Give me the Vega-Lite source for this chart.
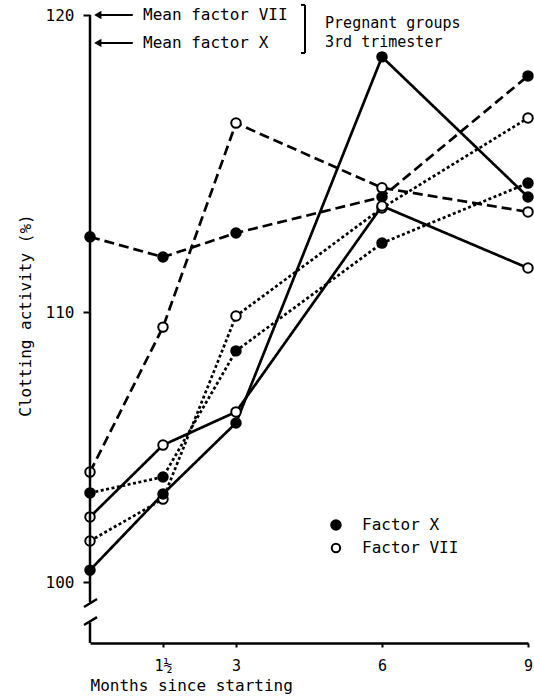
{
  "$schema": "https://vega.github.io/schema/vega-lite/v6.json",
  "width": 438,
  "height": 628,
  "autosize": {"type": "none"},
  "padding": {"left": 90, "top": 15, "right": 6, "bottom": 54},
  "background": "white",
  "config": {
    "view": {"stroke": null},
    "font": "DejaVu Sans Mono",
    "axis": {"labelColor": "black", "titleColor": "black", "tickColor": "black", "domainColor": "black", "grid": false, "titleFontWeight": "normal"}
  },
  "datasets": {
    "one": [{}],
    "series": [
      {"month": 0, "value": 104.07, "factor": "Factor VII", "group": "A"},
      {"month": 1.5, "value": 109.44, "factor": "Factor VII", "group": "A"},
      {"month": 3, "value": 116.36, "factor": "Factor VII", "group": "A"},
      {"month": 6, "value": 114.18, "factor": "Factor VII", "group": "A"},
      {"month": 9, "value": 113.37, "factor": "Factor VII", "group": "A"},
      {"month": 0, "value": 112.53, "factor": "Factor X", "group": "A"},
      {"month": 1.5, "value": 111.85, "factor": "Factor X", "group": "A"},
      {"month": 3, "value": 112.66, "factor": "Factor X", "group": "A"},
      {"month": 6, "value": 113.87, "factor": "Factor X", "group": "A"},
      {"month": 9, "value": 117.95, "factor": "Factor X", "group": "A"},
      {"month": 0, "value": 103.30, "factor": "Factor X", "group": "B"},
      {"month": 1.5, "value": 103.89, "factor": "Factor X", "group": "B"},
      {"month": 3, "value": 108.56, "factor": "Factor X", "group": "B"},
      {"month": 6, "value": 112.32, "factor": "Factor X", "group": "B"},
      {"month": 9, "value": 114.34, "factor": "Factor X", "group": "B"},
      {"month": 0, "value": 101.52, "factor": "Factor VII", "group": "B"},
      {"month": 1.5, "value": 103.07, "factor": "Factor VII", "group": "B"},
      {"month": 3, "value": 109.85, "factor": "Factor VII", "group": "B"},
      {"month": 6, "value": 113.50, "factor": "Factor VII", "group": "B"},
      {"month": 9, "value": 116.53, "factor": "Factor VII", "group": "B"},
      {"month": 0, "value": 102.41, "factor": "Factor VII", "group": "C"},
      {"month": 1.5, "value": 105.07, "factor": "Factor VII", "group": "C"},
      {"month": 3, "value": 106.30, "factor": "Factor VII", "group": "C"},
      {"month": 6, "value": 113.57, "factor": "Factor VII", "group": "C"},
      {"month": 9, "value": 111.48, "factor": "Factor VII", "group": "C"},
      {"month": 0, "value": 100.44, "factor": "Factor X", "group": "C"},
      {"month": 1.5, "value": 103.26, "factor": "Factor X", "group": "C"},
      {"month": 3, "value": 105.89, "factor": "Factor X", "group": "C"},
      {"month": 6, "value": 118.59, "factor": "Factor X", "group": "C"},
      {"month": 9, "value": 113.87, "factor": "Factor X", "group": "C"}
    ]
  },
  "data": {"name": "one"},
  "layer": [
    {
      "data": {"name": "series"},
      "mark": {"type": "line", "color": "black", "strokeWidth": 2.7},
      "encoding": {
        "x": {
          "field": "month", "type": "quantitative",
          "scale": {"domain": [0, 9], "nice": false, "zero": false},
          "axis": {
            "values": [1.5, 3, 6, 9],
            "labelExpr": "datum.value == 1.5 ? '1½' : datum.label",
            "title": "Months since starting",
            "titleAnchor": "start",
            "titleFontSize": 16,
            "titlePadding": 4,
            "labelFontSize": 15,
            "labelPadding": 11,
            "labelFlush": false,
            "tickSize": 4,
            "tickWidth": 2,
            "domainWidth": 2.5
          }
        },
        "y": {
          "field": "value", "type": "quantitative",
          "scale": {"domain": [97.741, 110, 120], "range": [628, 297, 0], "nice": false, "zero": false},
          "axis": {
            "values": [100, 110, 120],
            "title": "Clotting activity (%)",
            "titleFontSize": 16,
            "titleX": -57,
            "titleY": 300,
            "labelFontSize": 16,
            "labelPadding": 9,
            "tickSize": 7,
            "tickWidth": 2,
            "domain": false
          }
        },
        "detail": [{"field": "factor"}, {"field": "group"}],
        "strokeDash": {
          "field": "group", "type": "nominal",
          "scale": {"domain": ["A", "B", "C"], "range": [[10, 5], [3, 2.5], [1, 0]]},
          "legend": null
        }
      }
    },
    {
      "data": {"name": "series"},
      "mark": {"type": "point", "shape": "circle", "filled": true, "stroke": "black", "strokeWidth": 2, "size": 90, "opacity": 1},
      "encoding": {
        "x": {"field": "month", "type": "quantitative"},
        "y": {"field": "value", "type": "quantitative"},
        "fill": {
          "field": "factor", "type": "nominal",
          "scale": {"domain": ["Factor X", "Factor VII"], "range": ["black", "white"]},
          "legend": null
        }
      }
    },
    {
      "mark": {"type": "rule", "color": "black", "strokeWidth": 2.5},
      "encoding": {"x": {"datum": 0}, "y": {"datum": 120}, "y2": {"datum": 99.26}}
    },
    {
      "mark": {"type": "rule", "color": "black", "strokeWidth": 2.5},
      "encoding": {"x": {"datum": 0}, "y": {"datum": 98.5}, "y2": {"datum": 97.741}}
    },
    {
      "mark": {"type": "rule", "color": "black", "strokeWidth": 2.5},
      "encoding": {"x": {"datum": -0.123}, "x2": {"datum": 0.144}, "y": {"datum": 99.074}, "y2": {"datum": 99.37}}
    },
    {
      "mark": {"type": "rule", "color": "black", "strokeWidth": 2.5},
      "encoding": {"x": {"datum": -0.123}, "x2": {"datum": 0.144}, "y": {"datum": 98.407}, "y2": {"datum": 98.70}}
    },
    {
      "mark": {"type": "rule", "color": "black", "strokeWidth": 2},
      "encoding": {"x": {"datum": 0.12}, "x2": {"datum": 0.88}, "y": {"datum": 120}}
    },
    {
      "mark": {"type": "rule", "color": "black", "strokeWidth": 2},
      "encoding": {"x": {"datum": 0.12}, "x2": {"datum": 0.88}, "y": {"datum": 119.06}}
    },
    {
      "mark": {"type": "point", "shape": "triangle-left", "filled": true, "color": "black", "size": 70, "opacity": 1},
      "encoding": {"x": {"datum": 0.16}, "y": {"datum": 120}}
    },
    {
      "mark": {"type": "point", "shape": "triangle-left", "filled": true, "color": "black", "size": 70, "opacity": 1},
      "encoding": {"x": {"datum": 0.16}, "y": {"datum": 119.06}}
    },
    {
      "mark": {"type": "text", "align": "left", "baseline": "middle", "fontSize": 16, "fill": "black"},
      "encoding": {"x": {"datum": 1.09}, "y": {"datum": 120}, "text": {"value": "Mean factor VII"}}
    },
    {
      "mark": {"type": "text", "align": "left", "baseline": "middle", "fontSize": 16, "fill": "black"},
      "encoding": {"x": {"datum": 1.09}, "y": {"datum": 119.06}, "text": {"value": "Mean factor X"}}
    },
    {
      "mark": {"type": "rule", "color": "black", "strokeWidth": 2},
      "encoding": {"x": {"datum": 4.418}, "y": {"datum": 120.34}, "y2": {"datum": 118.72}}
    },
    {
      "mark": {"type": "rule", "color": "black", "strokeWidth": 2},
      "encoding": {"x": {"datum": 4.335}, "x2": {"datum": 4.418}, "y": {"datum": 120.34}}
    },
    {
      "mark": {"type": "rule", "color": "black", "strokeWidth": 2},
      "encoding": {"x": {"datum": 4.335}, "x2": {"datum": 4.418}, "y": {"datum": 118.72}}
    },
    {
      "mark": {"type": "text", "align": "left", "baseline": "middle", "fontSize": 15, "fill": "black"},
      "encoding": {"x": {"datum": 4.83}, "y": {"datum": 119.73}, "text": {"value": "Pregnant groups"}}
    },
    {
      "mark": {"type": "text", "align": "left", "baseline": "middle", "fontSize": 15, "fill": "black"},
      "encoding": {"x": {"datum": 4.83}, "y": {"datum": 119.09}, "text": {"value": "3rd trimester"}}
    },
    {
      "mark": {"type": "point", "shape": "circle", "filled": true, "fill": "black", "stroke": "black", "strokeWidth": 2, "size": 90, "opacity": 1},
      "encoding": {"x": {"datum": 5.054}, "y": {"datum": 102.11}}
    },
    {
      "mark": {"type": "point", "shape": "circle", "filled": true, "fill": "white", "stroke": "black", "strokeWidth": 2, "size": 70, "opacity": 1},
      "encoding": {"x": {"datum": 5.054}, "y": {"datum": 101.26}}
    },
    {
      "mark": {"type": "text", "align": "left", "baseline": "middle", "fontSize": 16, "fill": "black"},
      "encoding": {"x": {"datum": 5.589}, "y": {"datum": 102.11}, "text": {"value": "Factor X"}}
    },
    {
      "mark": {"type": "text", "align": "left", "baseline": "middle", "fontSize": 16, "fill": "black"},
      "encoding": {"x": {"datum": 5.589}, "y": {"datum": 101.26}, "text": {"value": "Factor VII"}}
    }
  ]
}
